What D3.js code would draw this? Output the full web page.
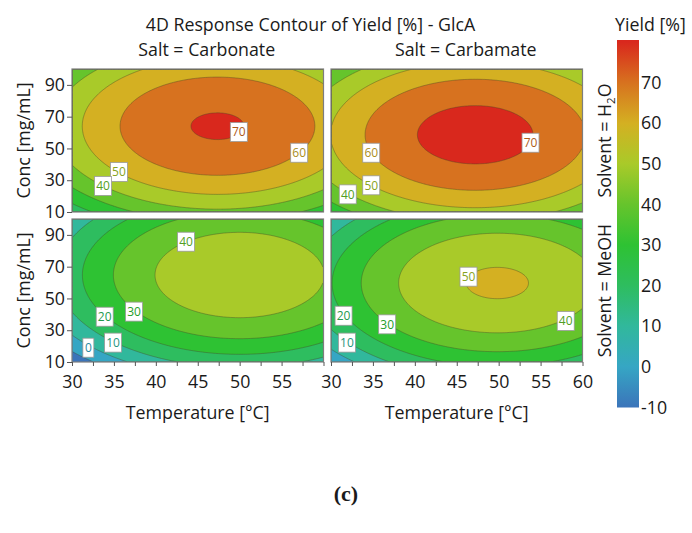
<!DOCTYPE html>
<meta charset="utf-8">
<style>
body { margin: 0; background: #fff; }
text { font-family: "Open Sans", "Noto Sans", sans-serif; fill: #1a1a1a; }
.axis .domain { display: none; }
.axis line { stroke: #555; }
.axis text { font-size: 17.8px; fill: #1a1a1a; }
</style>
<svg id="chart" width="692" height="533"></svg>
<script src="https://d3js.org/d3.v7.min.js"></script>
<script>

var salts = ["Carbonate", "Carbamate"];
var solvents = ["H2O", "MeOH"];

var tempTicks = [30, 32.5, 35, 37.5, 40, 42.5, 45, 47.5, 50, 52.5, 55, 57.5, 60];
var tempLabels = [[30, 35, 40, 45, 50, 55], [30, 35, 40, 45, 50, 55, 60]];
var concTicks = [10, 30, 50, 70, 90];
var levels = [-10, 0, 10, 20, 30, 40, 50, 60, 70];
var barTicks = [-10, 0, 10, 20, 30, 40, 50, 60, 70];
var barValues = [-10, 0, 10, 20, 30, 40, 50, 60, 70, 80];
var barColors = ["#3b74ba", "#36a6c4", "#31b89c", "#2ebd5f", "#2ec233", "#66c42c",
                 "#a9ca29", "#d4b022", "#d7721f", "#d9281d"];

// fitted response surface per [solvent][salt]:
// yield = peak - kT*(T - Tpk)^2 - kC*(C - Cpk)^2
var peakYield = [[70.8, 73.8], [48.15, 51.1]];
var peakTemp  = [[47.35, 47.2], [50.0, 49.85]];
var peakConc  = [[64.0, 58.6], [64.75, 59.7]];
var curvTemp  = [[0.080, 0.080], [0.080, 0.080]];
var curvConc  = [[0.0113, 0.0113], [0.0113, 0.0113]];

// contour labels: [solvent, salt, level, temp, conc]
var contourLabels = [
  [0, 0, 70, 49.9, 60.3], [0, 0, 60, 57.1, 47.3], [0, 0, 50, 35.6, 35.2], [0, 0, 40, 33.7, 26.4],
  [0, 1, 70, 53.8, 53.6], [0, 1, 60, 34.8, 47.3], [0, 1, 50, 34.8, 26.8], [0, 1, 40, 32.0, 21.1],
  [1, 0, 40, 43.6, 85.7], [1, 0, 30, 37.4, 41.7], [1, 0, 20, 33.9, 38.5], [1, 0, 10, 34.9, 22.2], [1, 0, 0, 31.95, 19.0],
  [1, 1, 50, 46.4, 63.7], [1, 1, 40, 58.0, 35.8], [1, 1, 30, 36.7, 33.7], [1, 1, 20, 31.5, 39.1], [1, 1, 10, 31.9, 22.2]
];

var svg = d3.select("#chart");

var colX = [72, 331], pw = 251.5;
var rowY = [69, 219], ph = 143;
var tempDomain = [30, 60], concDomain = [10, 100];
var fs = "17.8px";

var color = d3.scaleLinear().domain(barValues).range(barColors).clamp(true);

var nx = 150, ny = 180;
var dT = (tempDomain[1] - tempDomain[0]) / nx,
    dC = (concDomain[1] - concDomain[0]) / ny;

var contours = d3.contours().size([nx, ny]).thresholds(levels);

solvents.forEach(function(solv, r) {
  salts.forEach(function(salt, c) {
    var x = d3.scaleLinear().domain(tempDomain).range([colX[c], colX[c] + pw]);
    var y = d3.scaleLinear().domain(concDomain).range([rowY[r] + ph, rowY[r]]);

    var values = new Array(nx * ny);
    for (var j = 0; j < ny; j++) {
      for (var i = 0; i < nx; i++) {
        var t = tempDomain[0] + (i + 0.5) * dT,
            cc = concDomain[0] + (j + 0.5) * dC;
        values[j * nx + i] = peakYield[r][c]
          - curvTemp[r][c] * Math.pow(t - peakTemp[r][c], 2)
          - curvConc[r][c] * Math.pow(cc - peakConc[r][c], 2);
      }
    }

    var proj = d3.geoTransform({
      point: function(px, py) {
        this.stream.point(x(tempDomain[0] + px * dT), y(concDomain[0] + py * dC));
      }
    });
    var path = d3.geoPath(proj);

    var id = "clip" + r + c;
    svg.append("clipPath").attr("id", id)
      .append("rect")
        .attr("x", colX[c]).attr("y", rowY[r])
        .attr("width", pw).attr("height", ph);

    var g = svg.append("g").attr("clip-path", "url(#" + id + ")");

    g.append("rect")
      .attr("x", colX[c]).attr("y", rowY[r])
      .attr("width", pw).attr("height", ph)
      .attr("fill", color(levels[0]));

    var polys = contours(values);

    g.selectAll("path.band")
      .data(polys)
      .enter().append("path")
        .attr("class", "band")
        .attr("d", path)
        .attr("fill", function(d) { return color(d.value + 10); });

    g.selectAll("path.line")
      .data(polys)
      .enter().append("path")
        .attr("class", "line")
        .attr("d", path)
        .attr("fill", "none")
        .attr("stroke", "rgba(70,70,40,0.5)")
        .attr("stroke-width", 0.8);

    var labs = g.selectAll("g.lab")
      .data(contourLabels.filter(function(d) { return d[0] === r && d[1] === c; }))
      .enter().append("g")
        .attr("class", "lab")
        .attr("transform", function(d) { return "translate(" + x(d[3]) + "," + y(d[4]) + ")"; });

    labs.append("rect")
      .attr("x", function(d) { return String(d[2]).length > 1 ? -8.5 : -5.5; })
      .attr("y", -9.5)
      .attr("width", function(d) { return String(d[2]).length > 1 ? 17 : 11; })
      .attr("height", 19)
      .attr("fill", "#fff")
      .attr("stroke", "#999")
      .attr("stroke-width", 0.8);

    labs.append("text")
      .attr("text-anchor", "middle")
      .attr("dy", "0.36em")
      .style("font-size", "12px")
      .style("fill", function(d) { return d3.color(color(d[2])).darker(0.6); })
      .text(function(d) { return d[2]; });

    svg.append("rect")
      .attr("x", colX[c]).attr("y", rowY[r])
      .attr("width", pw).attr("height", ph)
      .attr("fill", "none")
      .attr("stroke", "#7d7d7d")
      .attr("stroke-width", 1.2);

    if (c === 0) {
      svg.append("g")
        .attr("class", "axis")
        .attr("transform", "translate(" + colX[c] + ",0)")
        .call(d3.axisLeft(y).tickValues(concTicks).tickSize(5).tickPadding(2));
    }
    if (r === 1) {
      svg.append("g")
        .attr("class", "axis")
        .attr("transform", "translate(0," + (rowY[r] + ph) + ")")
        .call(d3.axisBottom(x).tickValues(tempTicks).tickSize(4).tickPadding(9)
          .tickFormat(function(d) { return tempLabels[c].indexOf(d) >= 0 ? d : ""; }));
    }
  });
});

// titles
svg.append("text")
  .attr("x", 310.5).attr("y", 31)
  .attr("text-anchor", "middle")
  .style("font-size", fs)
  .text("4D Response Contour of Yield [%] - GlcA");

salts.forEach(function(salt, c) {
  svg.append("text")
    .attr("x", colX[c] + pw / 2 + 9).attr("y", 56)
    .attr("text-anchor", "middle")
    .style("font-size", fs)
    .text("Salt = " + salt);

  svg.append("text")
    .attr("x", colX[c] + pw / 2).attr("y", 419)
    .attr("text-anchor", "middle")
    .style("font-size", fs)
    .text("Temperature [°C]");
});

solvents.forEach(function(solv, r) {
  var cy = rowY[r] + ph / 2;
  svg.append("text")
    .attr("transform", "translate(30," + cy + ") rotate(-90)")
    .attr("text-anchor", "middle")
    .style("font-size", fs)
    .text("Conc [mg/mL]");

  var t = svg.append("text")
    .attr("transform", "translate(611," + cy + ") rotate(-90)")
    .attr("text-anchor", "middle")
    .style("font-size", fs);
  if (solv === "H2O") {
    t.append("tspan").text("Solvent = H");
    t.append("tspan").attr("dy", 4).style("font-size", "11.5px").text("2");
    t.append("tspan").attr("dy", -4).text("O");
  } else {
    t.text("Solvent = " + solv);
  }
});

// colour bar
var barX = 617, barW = 22;
var barY = d3.scaleLinear().domain([-10, 80.5]).range([407.5, 40]);

var grad = svg.append("defs").append("linearGradient")
  .attr("id", "bar").attr("x1", 0).attr("y1", 1).attr("x2", 0).attr("y2", 0);
grad.selectAll("stop")
  .data(barValues)
  .enter().append("stop")
    .attr("offset", function(d) { return (d - (-10)) / 90.5; })
    .attr("stop-color", function(d) { return color(d); });

svg.append("rect")
  .attr("x", barX).attr("y", barY(80.5))
  .attr("width", barW).attr("height", barY(-10) - barY(80.5))
  .attr("fill", "url(#bar)");

svg.append("g")
  .attr("class", "axis")
  .attr("transform", "translate(" + (barX + barW) + ",0)")
  .call(d3.axisRight(barY).tickValues(barTicks).tickSize(0).tickPadding(2)
    .tickFormat(function(d) { return String(d); }));

svg.append("text")
  .attr("x", 615).attr("y", 31)
  .style("font-size", fs)
  .text("Yield [%]");

svg.append("text")
  .attr("x", 346).attr("y", 501)
  .attr("text-anchor", "middle")
  .style("font-family", "'Liberation Serif', 'Times New Roman', serif")
  .style("font-weight", "bold")
  .style("font-size", "22px")
  .text("(c)");

</script>
